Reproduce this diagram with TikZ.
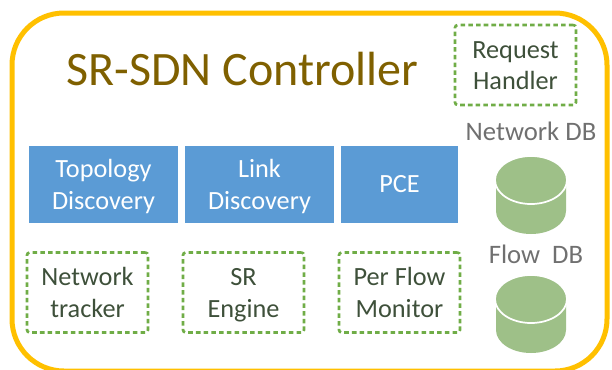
\documentclass[tikz,border=0pt]{standalone}
\usepackage{fontspec}
\setmainfont{Carlito}
\definecolor{frameorange}{RGB}{255,192,0}
\definecolor{boxblue}{RGB}{91,155,213}
\definecolor{dbgreen}{RGB}{158,192,136}
\definecolor{dashgreen}{RGB}{112,173,71}
\definecolor{handlertext}{RGB}{62,80,58}
\definecolor{dbtext}{RGB}{112,112,112}
\definecolor{titletext}{RGB}{127,96,0}
\tikzset{
  bluebox/.style={fill=boxblue,text=white,align=center,inner sep=0.75pt,font=\fontsize{19.7}{23.6}\selectfont,minimum height=57.75pt},
  dashbox/.style={draw=dashgreen,line width=2pt,dash pattern=on 3.4pt off 2.4pt,rounded corners=2pt,text=handlertext,align=center,inner sep=0.75pt,font=\fontsize{19.7}{23.6}\selectfont,minimum width=90.75pt,minimum height=60pt},
  dblabel/.style={text=dbtext,inner sep=0.75pt,font=\fontsize{20}{24}\selectfont},
}
\newcommand{\twolines}[2]{\rule{0pt}{20.3pt}#1\strut\\#2\strut}
\newcommand{\dbcylinder}[2]{
  \fill [dbgreen] (#1-35,#2) -- (#1-35,#2+31) arc [x radius=35,y radius=23,start angle=180,end angle=0] -- (#1+35,#2) -- cycle ;
  \draw [white,line width=1.3pt,fill=dbgreen] (#1,#2) ellipse [x radius=36,y radius=24] ;
}
\begin{document}
\begin{tikzpicture}[x=0.75pt,y=0.75pt,yscale=-1,xscale=1]
\useasboundingbox (0,0) rectangle (612,369);
\clip (0,0) rectangle (612,369);

%Outer frame
\draw [frameorange,line width=3.75pt,rounded corners=39pt] (12,13) rectangle (607,371) ;

% Text Node
\node (title) [text=titletext,inner sep=0.75pt,font=\fontsize{36}{42}\selectfont] at (242.5,69) {SR-SDN Controller};

%Blue boxes
\node (topology) [bluebox,minimum width=111.75pt] at (103.5,184.5) {\twolines{Topology}{Discovery}};
\node (link) [bluebox,minimum width=111.75pt] at (259.5,184.5) {\twolines{Link}{Discovery}};
\node (pce) [bluebox,minimum width=87.75pt] at (399.5,184.5) {PCE};

%Dashed boxes
\node (request) [dashbox] at (515.5,65) {\twolines{Request}{Handler}};
\node (tracker) [dashbox] at (87.5,292.5) {\twolines{Network}{tracker}};
\node (engine) [dashbox] at (243.5,292.5) {\twolines{SR}{Engine}};
\node (monitor) [dashbox] at (399.5,292.5) {\twolines{Per Flow}{Monitor}};

%Databases
\node (netlabel) [dblabel] at (531,131) {Network DB};
\dbcylinder{531}{180}
\node (flowlabel) [dblabel] at (536,254) {Flow\ \ DB};
\dbcylinder{531}{299}

\end{tikzpicture}
\end{document}
